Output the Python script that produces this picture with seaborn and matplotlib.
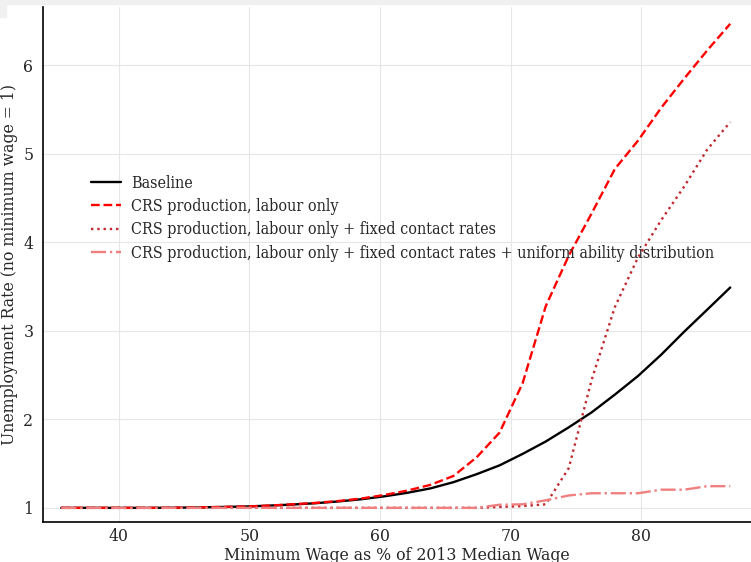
import matplotlib
matplotlib.use("Agg")
import matplotlib.pyplot as plt
import seaborn as sns
import pandas as pd

# Data
wage = [35.60, 37.37, 39.13, 40.90, 42.66, 44.43, 46.20, 47.96, 49.73, 51.49,
        53.26, 55.03, 56.79, 58.56, 60.32, 62.09, 63.86, 65.62, 67.39, 69.15,
        70.92, 72.69, 74.45, 76.21, 77.98, 79.75, 81.52, 83.28, 85.05, 86.81]
baseline = [1.000, 1.000, 1.000, 1.000, 1.000, 1.002, 1.005, 1.010, 1.015, 1.025,
            1.037, 1.052, 1.072, 1.097, 1.130, 1.170, 1.220, 1.290, 1.380, 1.480,
            1.610, 1.750, 1.910, 2.080, 2.280, 2.490, 2.730, 2.990, 3.240, 3.490]
crs = [1.000, 1.000, 1.000, 1.000, 1.000, 1.002, 1.005, 1.010, 1.015, 1.025,
       1.040, 1.055, 1.077, 1.105, 1.145, 1.195, 1.260, 1.360, 1.570, 1.850,
       2.410, 3.280, 3.850, 4.330, 4.830, 5.150, 5.520, 5.850, 6.170, 6.470]
crs_fixed = [1.000, 1.000, 1.000, 1.000, 1.000, 1.000, 1.000, 1.000, 1.000, 1.000,
             1.000, 1.000, 1.000, 1.000, 1.000, 1.000, 1.000, 1.000, 1.000, 1.010,
             1.020, 1.040, 1.450, 2.450, 3.270, 3.830, 4.250, 4.630, 5.050, 5.360]
crs_uniform = [1.000, 1.000, 1.000, 1.000, 1.000, 1.000, 1.000, 1.000, 1.000, 1.000,
               1.000, 1.000, 1.000, 1.000, 1.000, 1.000, 1.000, 1.000, 1.000, 1.035,
               1.040, 1.085, 1.140, 1.165, 1.165, 1.165, 1.205, 1.205, 1.245, 1.245]

labels = ["Baseline",
          "CRS production, labour only",
          "CRS production, labour only + fixed contact rates",
          "CRS production, labour only + fixed contact rates + uniform ability distribution"]

series = [baseline, crs, crs_fixed, crs_uniform]
colors = ["black", "#ff0000", "#c0282d", "#f08080"]
styles = ["-", "--", ":", "-."]

sns.set_style("white")
plt.rcParams["font.family"] = ["DejaVu Serif"]
plt.rcParams["font.stretch"] = "condensed"

fig = plt.figure(figsize=(7.51, 5.62), dpi=100)
# screenshot-like grey frame artifacts
fig.patches.append(matplotlib.patches.Rectangle((0, 1 - 4/562), 1, 4/562, transform=fig.transFigure,
                                                 color="#f0f0f0", zorder=0))
fig.patches.append(matplotlib.patches.Rectangle((0, 1 - 17/562), 6/751, 17/562, transform=fig.transFigure,
                                                 color="#f0f0f0", zorder=0))
ax = fig.add_axes([43/751, 1 - 522/562, 1 - 43/751, (522 - 7)/562])

for vals, lab, c, ls in zip(series, labels, colors, styles):
    df = pd.DataFrame({"x": wage, "y": vals})
    sns.lineplot(data=df, x="x", y="y", ax=ax, color=c, linestyle=ls, linewidth=1.7, label=lab)

ax.set_xlim(34.2, 88.4)
ax.set_ylim(0.84, 6.66)
ax.set_xticks([40, 50, 60, 70, 80])
ax.set_yticks([1, 2, 3, 4, 5, 6])
ax.grid(True, color="#e6e6e6", linewidth=0.8)
ax.set_axisbelow(True)
for s in ["top", "right"]:
    ax.spines[s].set_visible(False)
for s in ["left", "bottom"]:
    ax.spines[s].set_color("black")
    ax.spines[s].set_linewidth(1.2)
ax.tick_params(axis="x", direction="in", length=4, labelsize=12.6, color="black", pad=4)
ax.tick_params(axis="y", direction="out", length=4, labelsize=12.6, color="black", pad=3)
ax.set_xlabel("Minimum Wage as % of 2013 Median Wage", fontsize=12.6, labelpad=2)
ax.set_ylabel("Unemployment Rate (no minimum wage = 1)", fontsize=12.6, labelpad=4)
ax.legend(loc="upper left", bbox_to_anchor=(0.0475, 0.702), frameon=False, fontsize=11.5,
          handlelength=1.875, handletextpad=0.625, labelspacing=0.39)

fig.savefig("out.png", dpi=100)
